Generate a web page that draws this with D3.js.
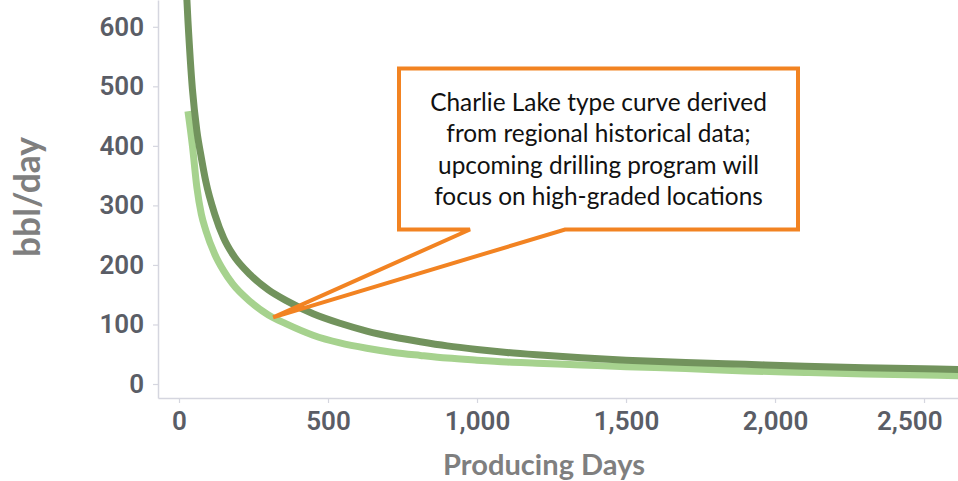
<!DOCTYPE html>
<html>
<head>
<meta charset="utf-8">
<script src="https://cdn.jsdelivr.net/npm/d3@7"></script>
<style>
  html, body { margin: 0; padding: 0; background: #fff; }
  svg { display: block; }
</style>
</head>
<body>
<svg id="chart" width="958" height="481"></svg>
<script>
// ---- data ----
const days = [15, 30, 45, 60, 75, 90, 120, 150, 180, 240, 300, 360, 450, 540, 630, 720, 810, 900, 1000, 1100, 1200, 1350, 1500, 1700, 1900, 2100, 2300, 2500, 2620];
const seriesDark = [760, 610, 495, 425, 380, 340, 285, 245, 218, 183, 158, 140, 118, 102, 89, 79, 71, 64, 58, 53, 49, 44, 40, 36, 33, 30, 27.5, 25.5, 24.5];
const seriesLight = [null, 458, 400, 330, 285, 258, 218, 190, 168, 138, 116, 101, 82, 69, 60, 53, 48, 43.5, 40, 37, 35, 32, 29, 26, 22, 19.5, 17, 15, 14];
const xTicks = [0, 500, 1000, 1500, 2000, 2500];
const yTicks = [0, 100, 200, 300, 400, 500, 600];
const xTitle = "Producing Days";
const yTitle = "bbl/day";
const calloutLines = [
  "Charlie Lake type curve derived",
  "from regional historical data;",
  "upcoming drilling program will",
  "focus on high-graded locations"
];
const calloutDay = 316; // day where the callout points on the light curve

// ---- layout ----
const W = 958, H = 481;
const plot = { left: 158, right: 958, top: 0, bottom: 398 };
const svg = d3.select("#chart");

const x = d3.scaleLinear().domain([-70.5, 2614]).range([plot.left, plot.right]);
const y = d3.scaleLinear().domain([-23.5, 645]).range([plot.bottom, plot.top]);

const axisColor = "#d5d6df";
const tickText = "#5a5d66";

svg.append("defs").append("clipPath").attr("id", "clip")
  .append("rect").attr("x", plot.left).attr("y", plot.top)
  .attr("width", plot.right - plot.left).attr("height", plot.bottom - plot.top);

// axes
const gx = svg.append("g").attr("transform", `translate(0,${plot.bottom})`)
  .call(d3.axisBottom(x).tickValues(xTicks).tickFormat(d3.format(",")).tickSize(5).tickSizeOuter(0).tickPadding(9));
const gy = svg.append("g").attr("transform", `translate(${plot.left},0)`)
  .call(d3.axisLeft(y).tickValues(yTicks).tickSize(5).tickSizeOuter(0).tickPadding(9));

[gx, gy].forEach(g => {
  g.select(".domain").attr("stroke", axisColor).attr("stroke-width", 1.5);
  g.selectAll(".tick line").attr("stroke", axisColor).attr("stroke-width", 1.2);
  g.selectAll(".tick text")
    .attr("fill", tickText)
    .style("font-family", "Roboto, 'Noto Sans', sans-serif")
    .style("font-weight", "600")
    .style("font-size", "26px");
});
// keep the last x label inside the visible area (as the reference does)
gx.selectAll(".tick text").each(function() {
  const bb = this.getBBox();
  const tx = x(d3.select(this.parentNode).datum());
  const overflow = tx + bb.x + bb.width - (W - 16);
  if (overflow > 0) d3.select(this).attr("x", -overflow);
});

// lines
const pts = (vals) => days.map((d, i) => ({ d, v: vals[i] }));
const line = d3.line()
  .defined(p => p.v != null)
  .x(p => x(p.d)).y(p => y(p.v))
  .curve(d3.curveMonotoneX);

const gLines = svg.append("g").attr("clip-path", "url(#clip)");
gLines.append("path").datum(pts(seriesLight))
  .attr("d", line).attr("fill", "none")
  .attr("stroke", "#a6d28e").attr("stroke-width", 7).attr("stroke-linejoin", "round");
gLines.append("path").datum(pts(seriesDark))
  .attr("d", line).attr("fill", "none")
  .attr("stroke", "#72935d").attr("stroke-width", 7).attr("stroke-linejoin", "round");

// axis titles
function fitText(sel, target) {
  const len = sel.node().getComputedTextLength();
  const fs = parseFloat(sel.style("font-size"));
  sel.style("font-size", (fs * target / len) + "px");
}
const xt = svg.append("text")
  .attr("x", 544).attr("y", 475).attr("text-anchor", "middle")
  .attr("fill", "#7f7f7f")
  .style("font-family", "Lato, 'Open Sans', sans-serif").style("font-weight", "700").style("font-size", "28px")
  .text(xTitle);
fitText(xt, 202);

const yt = svg.append("text")
  .attr("transform", "translate(40,197) rotate(-90)")
  .attr("text-anchor", "middle")
  .attr("fill", "#7f7f7f")
  .style("font-family", "Lato, 'Open Sans', sans-serif").style("font-weight", "700").style("font-size", "34px")
  .text(yTitle);
fitText(yt, 120);

// callout
const orange = "#f28322";
const box = { x0: 399, y0: 68.5, x1: 798, y1: 229.5 };
const tipX = x(calloutDay);
const tipY = y(seriesLight[days.indexOf(300)] - 4);
svg.append("rect")
  .attr("x", box.x0).attr("y", box.y0)
  .attr("width", box.x1 - box.x0).attr("height", box.y1 - box.y0)
  .attr("fill", "#fff");
svg.append("path")
  .attr("d", `M${box.x0},${box.y0} H${box.x1} V${box.y1} H565 L${tipX},${tipY} L470,${box.y1} H${box.x0} Z`)
  .attr("fill", "none").attr("stroke", orange).attr("stroke-width", 4)
  .attr("stroke-linejoin", "miter").attr("stroke-miterlimit", 4);

const cx = (box.x0 + box.x1) / 2;
const ct = svg.append("g")
  .style("font-family", "Lato, 'Open Sans', sans-serif").style("font-size", "22px")
  .attr("fill", "#111");
const tl = ct.selectAll("text").data(calloutLines).join("text")
  .attr("x", cx).attr("y", (d, i) => 110.5 + i * 31.5)
  .attr("text-anchor", "middle")
  .text(d => d);
const first = tl.filter((d, i) => i === 0);
const len0 = first.node().getComputedTextLength();
ct.style("font-size", (22 * 337 / len0) + "px");
</script>
</body>
</html>
